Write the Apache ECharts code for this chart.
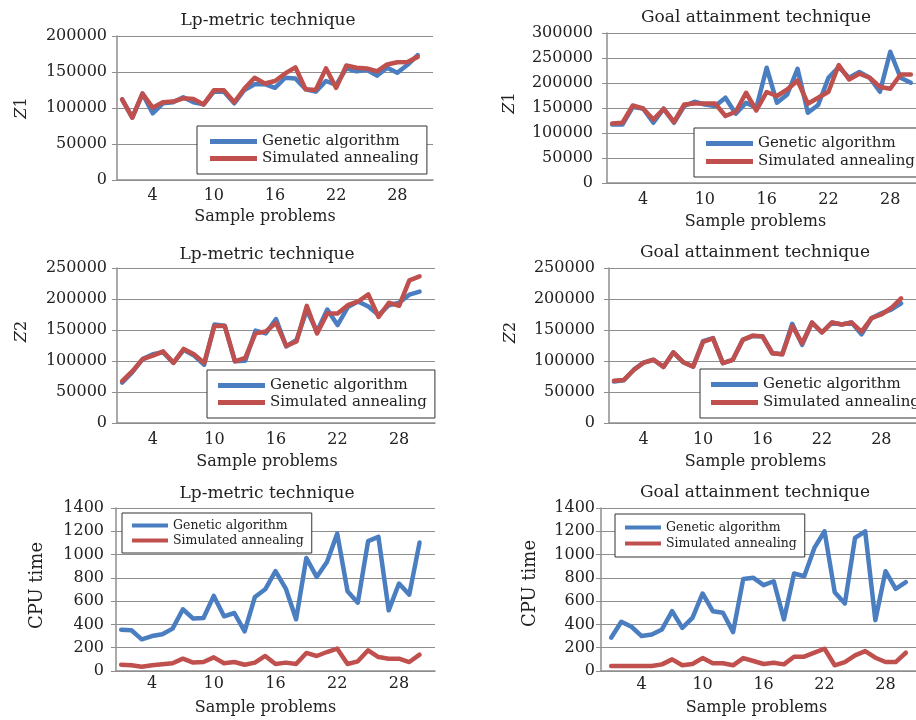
<!DOCTYPE html>
<html>
<head>
<meta charset="utf-8">
<title>GA vs SA</title>
<script src="https://cdn.jsdelivr.net/npm/echarts@6/dist/echarts.min.js"></script>
<style>
html, body { margin: 0; padding: 0; background: #fff; }
#main { width: 916px; height: 720px; }
</style>
</head>
<body>
<div id="main"></div>
<script>
var problems = ['1', '2', '3', '4', '5', '6', '7', '8', '9', '10', '11', '12', '13', '14', '15',
	'16', '17', '18', '19', '20', '21', '22', '23', '24', '25', '26', '27', '28', '29', '30'];
var seriesNames = ['Genetic algorithm', 'Simulated annealing'];

//Z1 - Lp-metric
var lpZ1GA = [112000, 86600, 120000, 92600, 106500, 108000, 115000, 108000, 105000, 122700, 122700, 106500, 125000, 133000, 133000,
	128000, 142000, 141000, 126000, 122700, 137500, 132000, 155000, 151000, 153000, 145000, 156000, 149000, 160000, 173500];
var lpZ1SA = [112000, 86600, 120000, 100500, 108000, 109000, 113500, 112500, 105000, 124500, 124500, 108000, 127000, 142000, 134000,
	137500, 148000, 156500, 126000, 125000, 155000, 128000, 159000, 156000, 155000, 151000, 160500, 163500, 164000, 171000];
//Z1 - goal attainment
var gaZ1GA = [117000, 117000, 152000, 149000, 120500, 148500, 120500, 154000, 162500, 157000, 154000, 170500, 138500, 160500, 150500,
	230500, 160500, 177000, 228500, 140500, 156000, 210500, 232000, 210500, 222000, 210500, 182500, 262500, 210500, 200500];
var gaZ1SA = [119000, 120500, 155000, 149000, 127000, 148500, 122000, 157000, 159000, 159000, 159000, 134000, 142500, 180500, 145000,
	182000, 174000, 187000, 205000, 158500, 170500, 182500, 236000, 207000, 218500, 210500, 192000, 188500, 217000, 217000];
//Z2 - Lp-metric
var lpZ2GA = [65000, 82000, 103000, 111000, 114000, 97000, 118000, 109000, 94000, 159000, 157000, 99500, 100500, 149000, 144500,
	167500, 123500, 134000, 182000, 147500, 183000, 158000, 187000, 196000, 188000, 174000, 190000, 194000, 207000, 212000];
var lpZ2SA = [67500, 83500, 103000, 108500, 115500, 97000, 119500, 111000, 97000, 156500, 156500, 99500, 105000, 144500, 147500,
	161500, 124500, 131500, 189000, 144500, 176500, 176500, 190000, 196000, 207500, 171000, 194000, 189000, 230000, 236500];
//Z2 - goal attainment
var gaZ2GA = [67000, 69000, 86000, 97500, 102000, 90500, 114000, 98000, 91000, 132000, 137000, 96500, 102000, 134000, 140000,
	140000, 112500, 111000, 160000, 126000, 162000, 146000, 162000, 159000, 162000, 143000, 169000, 177000, 183000, 193000];
var gaZ2SA = [68000, 69500, 85500, 97500, 102000, 90500, 114000, 98000, 91000, 131000, 136500, 96500, 102000, 134000, 141000,
	139500, 112500, 111000, 156500, 128500, 162000, 146000, 162000, 159000, 162000, 147500, 169000, 175000, 185500, 201000];
//CPU time
var lpCpuGA = [355, 350, 272, 300, 315, 364, 530, 450, 455, 645, 470, 498, 341, 636, 702,
	857, 708, 444, 971, 808, 937, 1180, 685, 587, 1115, 1152, 521, 751, 656, 1103];
var lpCpuSA = [54, 49, 37, 49, 57, 66, 106, 72, 77, 117, 66, 77, 54, 72, 129,
	60, 72, 60, 155, 129, 163, 192, 60, 83, 178, 120, 106, 106, 77, 140];
var gaCpuGA = [286, 423, 380, 300, 314, 357, 514, 371, 457, 666, 514, 500, 334, 791, 800,
	737, 771, 443, 837, 814, 1057, 1200, 677, 580, 1143, 1200, 437, 857, 706, 763];
var gaCpuSA = [43, 43, 43, 43, 43, 57, 100, 49, 60, 111, 66, 66, 49, 111, 86,
	60, 71, 57, 123, 123, 157, 191, 49, 77, 134, 171, 114, 77, 77, 157];

var font = "'DejaVu Serif', serif";
var textColor = '#222';
var gridColor = '#8e8e8e';
var colors = ['#4a7ec0', '#c0504d'];

//每个小图的布局
var panels = [
	{ title: 'Lp-metric technique', tx: 268, ty: 21, ga: lpZ1GA, sa: lpZ1SA,
		grid: { left: 117, top: 36, width: 316, height: 144 }, gap: true, xmax: 30, xm: 8, xng: 29, xns: 10,
		ymax: 200000, step: 50000, ym: 10, yName: '{i|Z}1', yns: 16, yng: 87, ysh: 0,
		lg: { left: 197, top: 126, pad: [8, 8, 8, 13], gap: 2, fs: 15, iw: 47, ih: 5 } },
	{ title: 'Goal attainment technique', tx: 756, ty: 18, ga: gaZ1GA, sa: gaZ1SA,
		grid: { left: 607, top: 33, width: 311, height: 150 }, gap: true, xm: 9, xng: 31, xns: 6,
		ymax: 300000, step: 50000, ym: 14, yName: '{i|Z}1', yns: 16, yng: 89, ysh: 5,
		lg: { left: 694, top: 128, pad: [8, 8, 8, 12], gap: 3, fs: 15, iw: 47, ih: 5 } },
	{ title: 'Lp-metric technique', tx: 267, ty: 255, ga: lpZ2GA, sa: lpZ2SA,
		grid: { left: 117, top: 268, width: 318, height: 155 }, gap: true, xmax: 30, xm: 9, xng: 31, xns: 9,
		ymax: 250000, step: 50000, ym: 10, yName: '{i|Z}2', yns: 16, yng: 87, ysh: 14,
		lg: { left: 207, top: 370, pad: [8, 8, 8, 11], gap: 2, fs: 15, iw: 47, ih: 5 } },
	{ title: 'Goal attainment technique', tx: 755, ty: 253, ga: gaZ2GA, sa: gaZ2SA,
		grid: { left: 609, top: 268, width: 315, height: 155 }, gap: true, xmax: 30, xm: 9, xng: 31, xns: 7,
		ymax: 250000, step: 50000, ym: 14, yName: '{i|Z}2', yns: 16, yng: 90, ysh: 13,
		lg: { left: 700, top: 369, pad: [8, 8, 8, 11], gap: 3, fs: 15, iw: 47, ih: 5 } },
	{ title: 'Lp-metric technique', tx: 267, ty: 494, ga: lpCpuGA, sa: lpCpuSA,
		grid: { left: 116, top: 508, width: 319, height: 163 }, gap: true, xmax: 30, xm: 5, xng: 29, xns: 10,
		ymax: 1400, step: 200, ym: 12, yName: 'CPU time', yns: 18, yng: 70, ysh: 4,
		lg: { left: 122, top: 513, pad: [6, 8, 6, 10], gap: 2, fs: 12.5, iw: 36, ih: 4 } },
	{ title: 'Goal attainment technique', tx: 755, ty: 493, ga: gaCpuGA, sa: gaCpuSA,
		grid: { left: 601, top: 508, width: 316, height: 163 }, gap: false, xmin: -1, xmax: 30, xm: 6, xng: 29, xns: 2,
		ymax: 1400, step: 200, ym: 6, yName: 'CPU time', yns: 18, yng: 62, ysh: 6,
		lg: { left: 615, top: 514, pad: [7, 8, 7, 10], gap: 3, fs: 12.5, iw: 36, ih: 4 } }
];

var option = {
	animation: false,
	backgroundColor: '#fff',
	graphic: [],
	grid: [],
	xAxis: [],
	yAxis: [],
	legend: [],
	series: []
};

var each = function(arr, fn) { for (var i = 0; i < arr.length; i++) fn(arr[i], i); };

each(panels, function(p, i) {
	option.graphic.push({
		type: 'text',
		x: p.tx,
		y: p.ty,
		style: {
			text: p.title,
			align: 'center',
			verticalAlign: 'middle',
			fontFamily: font,
			fontSize: 17,
			fill: textColor
		}
	});
	option.grid.push(p.grid);
	option.xAxis.push({
		gridIndex: i,
		type: 'category',
		data: problems,
		boundaryGap: p.gap,
		min: p.xmin,
		max: p.xmax,
		axisLine: { lineStyle: { color: gridColor, width: 1.5 } },
		axisTick: { show: false },
		splitLine: { show: false },
		axisLabel: {
			interval: function(index) {
				return index >= 3 && (index - 3) % 6 === 0;
			},
			margin: p.xm,
			fontFamily: font,
			fontSize: 16,
			color: textColor
		},
		name: 'Sample problems',
		nameLocation: 'middle',
		nameGap: p.xng,
		nameTextStyle: { fontFamily: font, fontSize: 16, color: textColor, padding: [0, p.xns * 2, 0, 0] }
	});
	option.yAxis.push({
		gridIndex: i,
		type: 'value',
		min: 0,
		max: p.ymax,
		interval: p.step,
		axisLine: { show: true, lineStyle: { color: gridColor, width: 1.5 } },
		axisTick: { show: true, length: 5, lineStyle: { color: gridColor } },
		splitLine: { show: true, lineStyle: { color: gridColor, width: 1 } },
		axisLabel: {
			margin: p.ym,
			fontFamily: font,
			fontSize: 16,
			color: textColor,
			formatter: function(v) { return String(v); } //不要千分位
		},
		name: p.yName,
		nameLocation: 'middle',
		nameGap: p.yng,
		nameRotate: 90,
		nameTextStyle: {
			fontFamily: font,
			fontSize: p.yns,
			color: textColor,
			padding: [0, 0, 0, p.ysh * 2],
			rich: {
				i: { fontFamily: font, fontSize: p.yns, fontStyle: 'italic', color: textColor }
			}
		}
	});
	option.legend.push({
		orient: 'vertical',
		left: p.lg.left,
		top: p.lg.top,
		padding: p.lg.pad,
		itemGap: p.lg.gap,
		itemWidth: p.lg.iw,
		itemHeight: p.lg.ih,
		icon: 'rect',
		selectedMode: false,
		backgroundColor: '#fff',
		borderColor: '#333',
		borderWidth: 1,
		textStyle: { fontFamily: font, fontSize: p.lg.fs, color: textColor },
		data: seriesNames
	});
	var vals = [p.ga, p.sa];
	each(seriesNames, function(name, k) {
		option.series.push({
			name: name,
			type: 'line',
			xAxisIndex: i,
			yAxisIndex: i,
			data: vals[k],
			symbol: 'none',
			showSymbol: false,
			itemStyle: { color: colors[k] },
			lineStyle: { width: 4.5, color: colors[k], cap: 'round', join: 'round' },
			z: 3 + k
		});
	});
});

var myChart = echarts.init(document.getElementById('main'));
myChart.setOption(option);
</script>
</body>
</html>
